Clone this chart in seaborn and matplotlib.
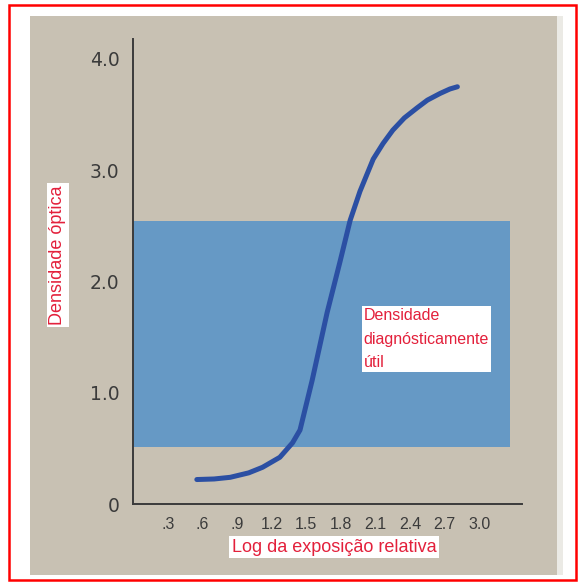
import matplotlib
matplotlib.use("Agg")
import matplotlib.pyplot as plt
from matplotlib.patches import Rectangle
import seaborn as sns

# Characteristic (H&D) curve of a radiographic film
log_exposure = [0.55, 0.70, 0.84, 1.00, 1.12, 1.27, 1.38, 1.445, 1.55, 1.68,
                1.79, 1.88, 1.965, 2.08, 2.165, 2.25, 2.35, 2.46, 2.55, 2.66,
                2.745, 2.81]
optical_density = [0.22, 0.225, 0.24, 0.28, 0.33, 0.42, 0.55, 0.665, 1.11, 1.72,
                   2.17, 2.55, 2.81, 3.10, 3.24, 3.36, 3.47, 3.56, 3.63, 3.69,
                   3.73, 3.75]

# Diagnostically useful density band
useful_band = (0.51, 2.54)
band_x_extent = 3.27

x_ticks = [0.3, 0.6, 0.9, 1.2, 1.5, 1.8, 2.1, 2.4, 2.7, 3.0]
x_tick_labels = [".3", ".6", ".9", "1.2", "1.5", "1.8", "2.1", "2.4", "2.7", "3.0"]
y_ticks = [0, 1, 2, 3, 4]
y_tick_labels = ["0", "1.0", "2.0", "3.0", "4.0"]

x_label = "Log da exposição relativa"
y_label = "Densidade óptica"
band_label = "Densidade\ndiagnósticamente\nútil"

PAPER = "#c8c1b3"
BAND = "#6699c5"
CURVE = "#2b4fa3"
RED = "#e3203b"
INK = "#3b3b3b"

sns.set_theme(style="white")
plt.rcParams["font.family"] = ["DejaVu Sans"]

W, H = 579, 582
fig = plt.figure(figsize=(W / 100, H / 100), dpi=100)
fig.patch.set_facecolor("white")

# paper-coloured plotting area
left_px, right_px, top_px, bottom_px = 30, 557, 16, 575
ax = fig.add_axes([left_px / W, (H - bottom_px) / H,
                   (right_px - left_px) / W, (bottom_px - top_px) / H])
ax.set_facecolor(PAPER)

# thin pale strip right of the paper
fig.add_artist(Rectangle((557 / W, (H - 575) / H), 6 / W, 559 / H,
                         transform=fig.transFigure, fc="#ebeae5", ec="none"))

ax.set_xlim(-0.897, 3.674)
ax.set_ylim(-0.638, 4.386)

ax.add_patch(Rectangle((0, useful_band[0]), band_x_extent,
                       useful_band[1] - useful_band[0],
                       fc=BAND, ec="none", zorder=1))

sns.lineplot(x=log_exposure, y=optical_density, sort=False, estimator=None,
             color=CURVE, linewidth=3.6, ax=ax, zorder=3,
             solid_capstyle="round", solid_joinstyle="round")

for side in ("top", "right"):
    ax.spines[side].set_visible(False)
for side in ("left", "bottom"):
    ax.spines[side].set_position(("data", 0))
    ax.spines[side].set_color(INK)
    ax.spines[side].set_linewidth(1.4)
    ax.spines[side].set_zorder(4)
ax.spines["left"].set_bounds(0, 4.18)
ax.spines["bottom"].set_bounds(0, 3.37)

ax.set_xticks(x_ticks)
ax.set_xticklabels(x_tick_labels, family="Liberation Sans", fontsize=11.5, color=INK)
ax.set_yticks(y_ticks)
ax.set_yticklabels(y_tick_labels, fontsize=13.5, color=INK)
ax.tick_params(axis="x", direction="in", length=6.5, width=1.2, color=INK, pad=9.5)
ax.tick_params(axis="y", direction="in", length=8.6, width=1.2, color=INK, pad=10)
ax.grid(False)

label_box = dict(boxstyle="square,pad=0.15", fc="white", ec="none")
ax.set_xlabel(x_label, family="Liberation Sans", fontsize=13, color=RED, bbox=label_box)
ax.xaxis.set_label_coords((334 - left_px) / (right_px - left_px),
                          (bottom_px - 547) / (bottom_px - top_px))
ax.xaxis.label.set_va("center")
ax.set_ylabel(y_label, family="Liberation Sans", fontsize=13, color=RED, bbox=label_box)
ax.yaxis.set_label_coords((58 - left_px) / (right_px - left_px),
                          (bottom_px - 255) / (bottom_px - top_px))
ax.yaxis.label.set_va("center")

ax.text(1.995, 1.76, band_label, ha="left", va="top", fontsize=11.5,
        family="Liberation Sans", color=RED, linespacing=1.7, zorder=5,
        bbox=dict(boxstyle="square,pad=0.12", fc="white", ec="none"))

# red frame around the figure
fig.add_artist(Rectangle((8.5 / W, (H - 580) / H), (576 - 8.5) / W, (580 - 5) / H,
                         transform=fig.transFigure, fc="none", ec="#ff0000",
                         lw=1.8))

fig.savefig("out.png", dpi=100)
